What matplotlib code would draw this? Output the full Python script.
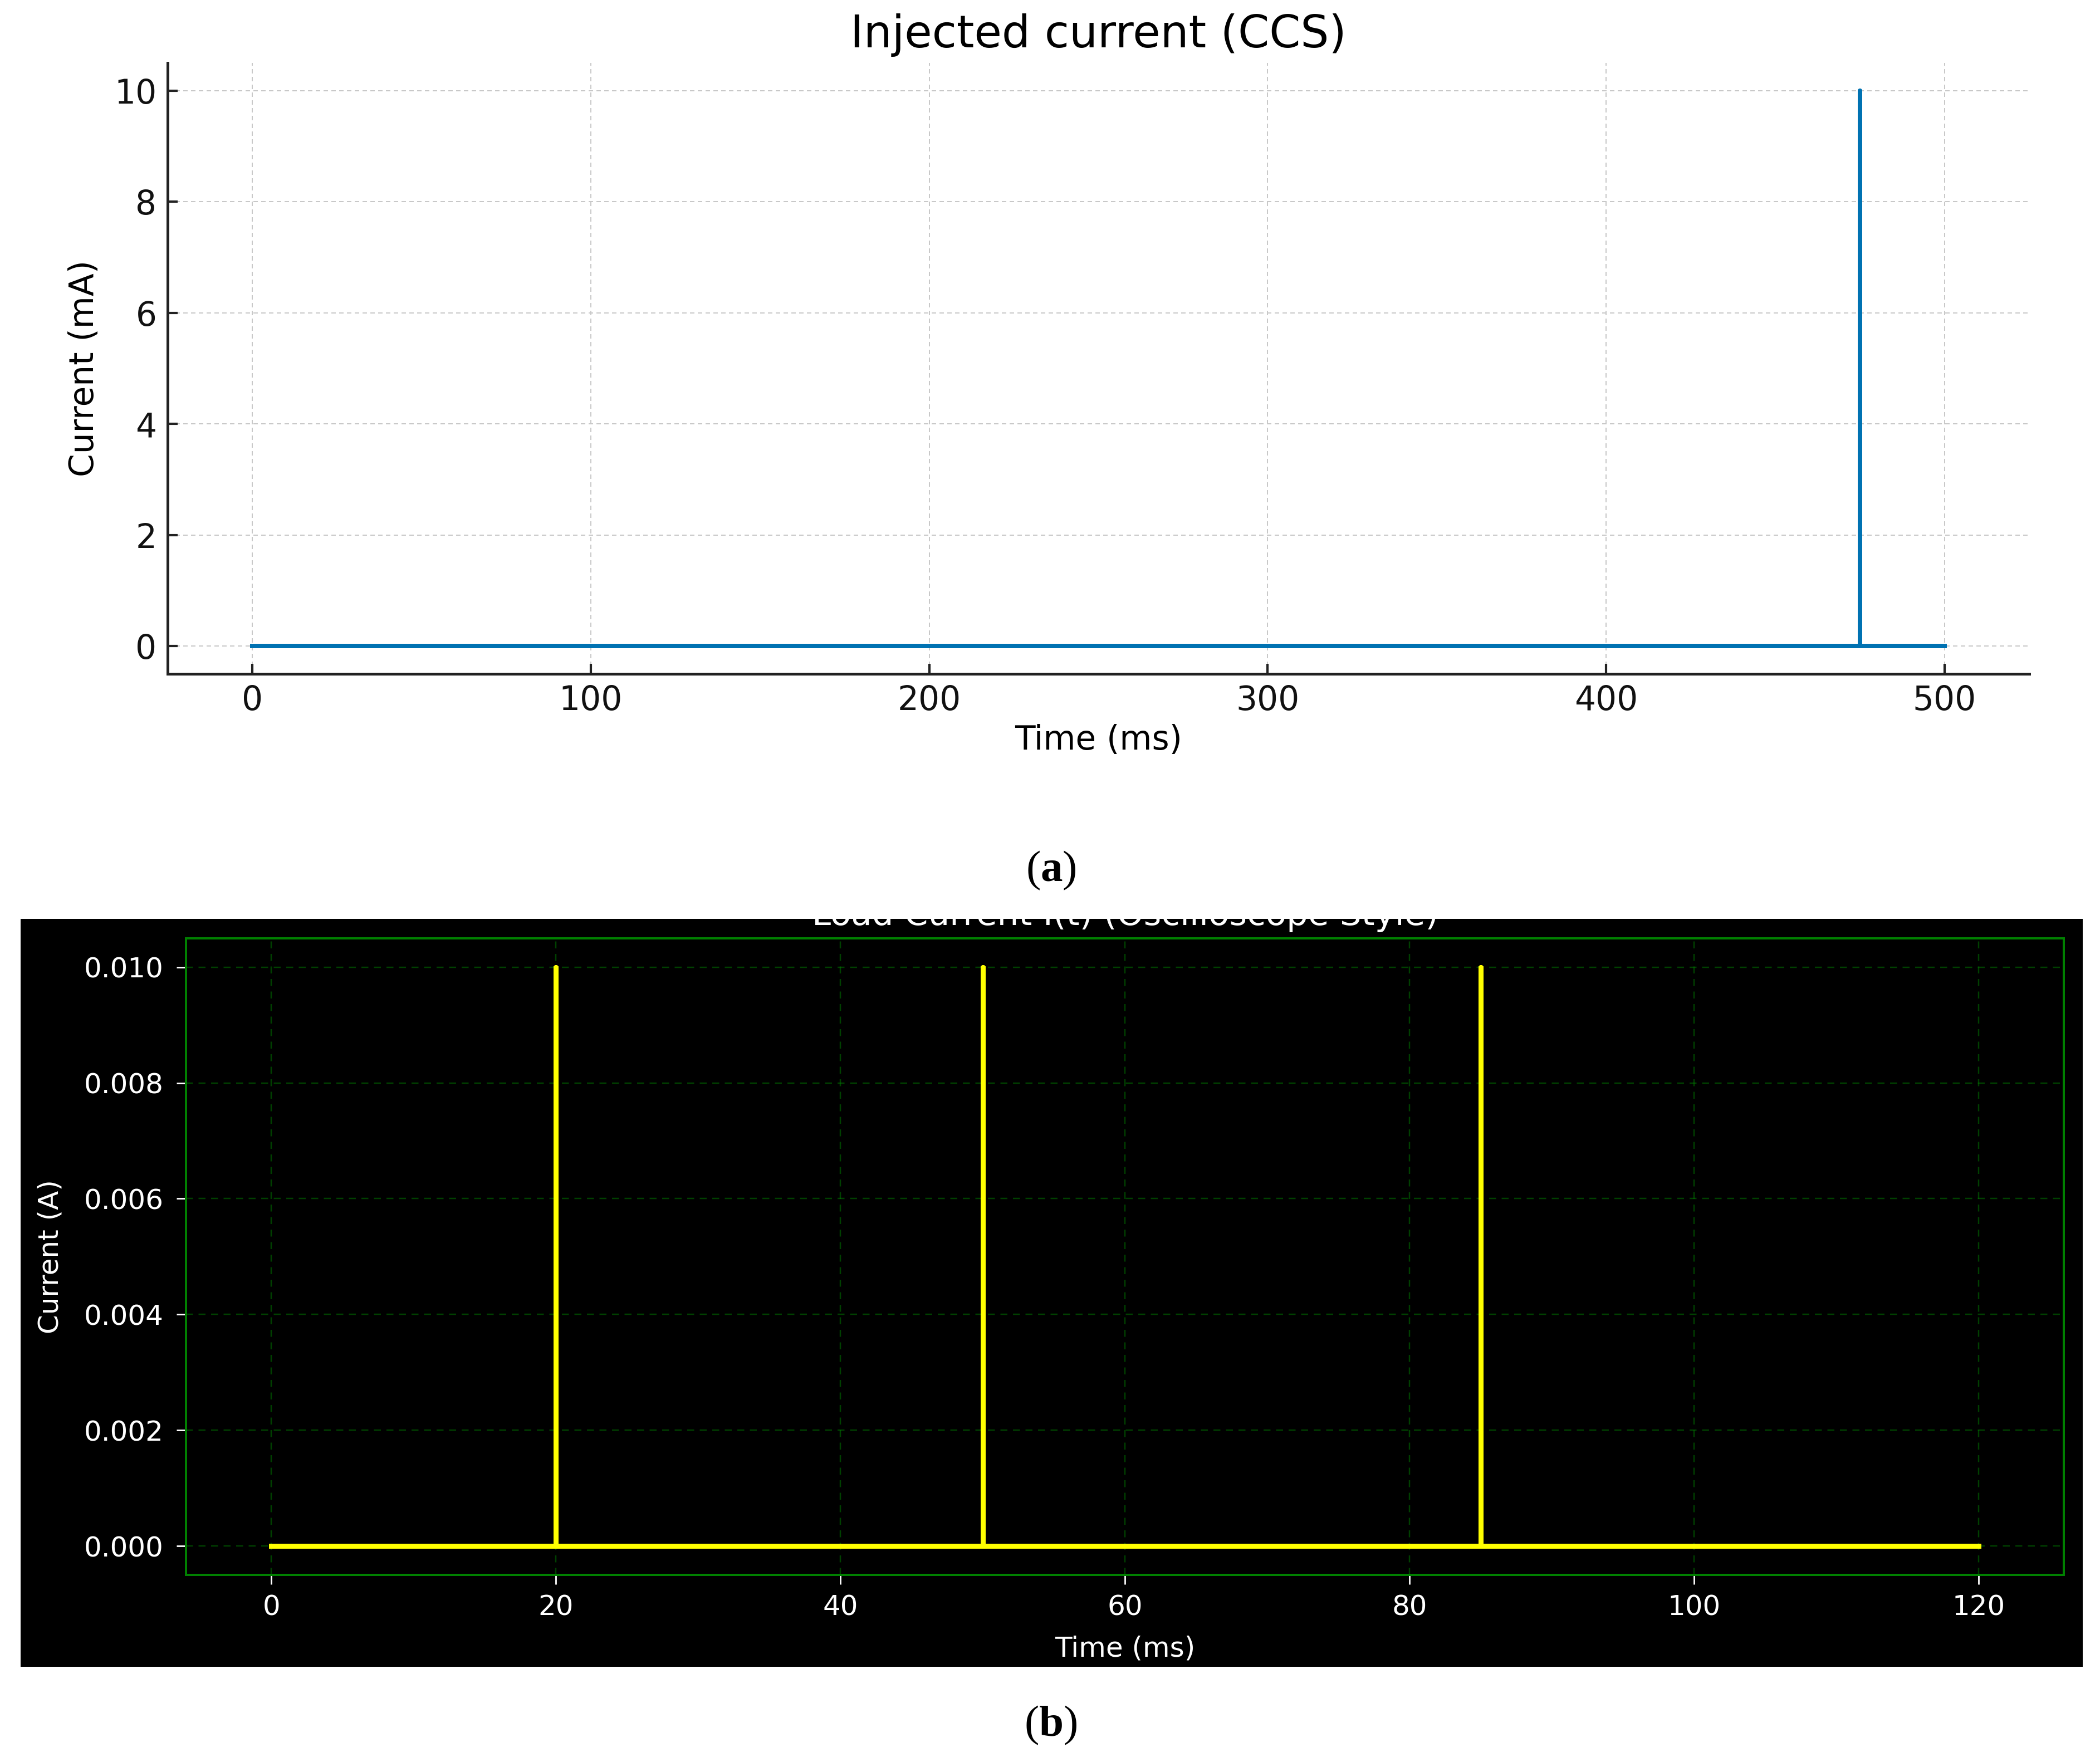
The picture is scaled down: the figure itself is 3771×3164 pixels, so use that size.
import matplotlib
matplotlib.use('Agg')
import matplotlib.pyplot as plt
from matplotlib.patches import Rectangle
from matplotlib.transforms import Bbox, TransformedBbox
from matplotlib.ticker import FormatStrFormatter

# (a) injected current, one pulse
pulses_a = [475]          # ms
amp_a = 10                # mA
t_end_a = 500
xticks_a = [0, 100, 200, 300, 400, 500]
yticks_a = [0, 2, 4, 6, 8, 10]

# (b) load current, oscilloscope style
pulses_b = [20, 50, 85]   # ms
amp_b = 0.010             # A
t_end_b = 120
xticks_b = [0, 20, 40, 60, 80, 100, 120]
yticks_b = [0.000, 0.002, 0.004, 0.006, 0.008, 0.010]

PX = 0.72  # points per pixel at dpi 100

plt.rcParams['mathtext.fontset'] = 'custom'
plt.rcParams['mathtext.rm'] = 'Liberation Serif'
plt.rcParams['mathtext.bf'] = 'Liberation Serif:bold'


def spike_train(pulses, amp, t_end):
    # zero baseline with a one-sample spike at each pulse time
    t, y = [0], [0]
    for p in pulses:
        t += [p, p, p]
        y += [0, amp, 0]
    t.append(t_end)
    y.append(0)
    return t, y


fig = plt.figure(figsize=(37.71, 31.64), dpi=100)

# ---- panel (a)
ax_a = fig.add_axes([0.0798, 0.6176, 0.8865, 0.3467])
t, y = spike_train(pulses_a, amp_a, t_end_a)
ax_a.plot(t, y, color='#0072b2', lw=8 * PX)
ax_a.set_xlim(-25, 525)
ax_a.set_ylim(-0.5, 10.5)
ax_a.set_xticks(xticks_a)
ax_a.set_yticks(yticks_a)
ax_a.set_axisbelow(True)
ax_a.grid(True, color='#c8c8c8', lw=2 * PX, ls=(0, (4, 3)))
for s in ['top', 'right']:
    ax_a.spines[s].set_visible(False)
for s in ['left', 'bottom']:
    ax_a.spines[s].set_linewidth(5 * PX)
    ax_a.spines[s].set_color('#222222')
ax_a.tick_params(direction='in', length=13, width=3, labelsize=43, pad=14,
                 color='#222222', labelcolor='#111111')
ax_a.set_title('Injected current (CCS)', fontsize=58, pad=20)
ax_a.set_xlabel('Time (ms)', fontsize=43, va='center')
ax_a.set_ylabel('Current (mA)', fontsize=43, va='center')
ax_a.xaxis.set_label_coords(0.5, -0.1094)
ax_a.yaxis.set_label_coords(-0.0446, 0.5)

# ---- panel (b): black screenshot area
clip = Bbox([[0.0098, 0.054], [0.9918, 0.4785]])
fig.add_artist(Rectangle((clip.x0, clip.y0), clip.width, clip.height,
                         transform=fig.transFigure, facecolor='black',
                         edgecolor='none', zorder=-1))

ax_b = fig.add_axes([0.0886, 0.1062, 0.8942, 0.3613])
ax_b.set_facecolor('black')
t, y = spike_train(pulses_b, amp_b, t_end_b)
ax_b.plot(t, y, color='#ffff00', lw=9 * PX)
ax_b.set_xlim(-6, 126)
ax_b.set_ylim(-0.0005, 0.0105)
ax_b.set_xticks(xticks_b)
ax_b.set_yticks(yticks_b)
ax_b.yaxis.set_major_formatter(FormatStrFormatter('%.3f'))
ax_b.set_axisbelow(True)
ax_b.grid(True, color='green', alpha=0.5, lw=2.5 * PX, ls=(0, (5, 4)))
for s in ax_b.spines.values():
    s.set_color('green')
    s.set_linewidth(4 * PX)
ax_b.tick_params(length=12, width=2, labelsize=36, color='white',
                 labelcolor='white')
ax_b.tick_params(axis='x', pad=13)
ax_b.tick_params(axis='y', pad=17)
ttl = ax_b.set_title('Load Current I(t) (Oscilloscope Style)', fontsize=44,
                     color='white', pad=17)
ttl.set_clip_box(TransformedBbox(clip, fig.transFigure))
ttl.set_clip_on(True)
ax_b.set_xlabel('Time (ms)', fontsize=36, color='white', va='center')
ax_b.set_ylabel('Current (A)', fontsize=36, color='white', va='center')
ax_b.xaxis.set_label_coords(0.5, -0.1155)
ax_b.yaxis.set_label_coords(-0.0721, 0.5)

# ---- captions: regular parentheses, bold letter
fig.text(0.5004, 0.506, r'($\mathbf{a}$)', family='Liberation Serif',
         fontsize=57, ha='center', va='center')
fig.text(0.5004, 0.0209, r'($\mathbf{b}$)', family='Liberation Serif',
         fontsize=57, ha='center', va='center')

fig.savefig('out.png', dpi=100)
